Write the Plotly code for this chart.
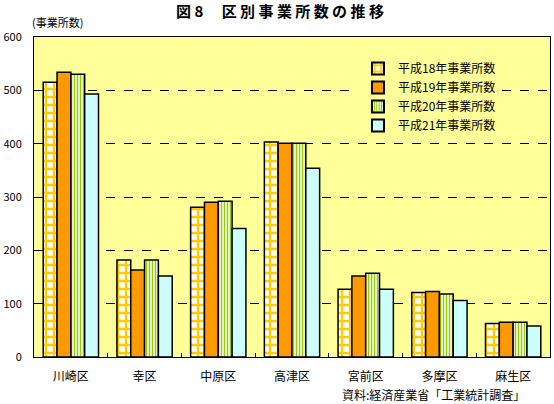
import plotly.graph_objects as go

categories = ["川崎区", "幸区", "中原区", "高津区", "宮前区", "多摩区", "麻生区"]
series_names = ["平成18年事業所数", "平成19年事業所数", "平成20年事業所数", "平成21年事業所数"]
h18 = [515, 182, 281, 403, 127, 121, 63]
h19 = [534, 163, 290, 401, 152, 123, 65]
h20 = [530, 182, 292, 401, 157, 118, 65]
h21 = [493, 152, 241, 354, 127, 106, 58]
y_ticks = [0, 100, 200, 300, 400, 500, 600]

JP = "Noto Sans CJK JP"
fig = go.Figure()

styles = [
    dict(color="#FFFFFF", pattern=dict(shape="+", fgcolor="#FFCC00", bgcolor="#FFFFFF", size=8, solidity=0.5, fillmode="replace")),
    dict(color="#FF9900"),
    dict(color="#FFFFFF", pattern=dict(shape="|", fgcolor="#99CC00", bgcolor="#FFFFFF", size=3, solidity=0.5, fillmode="replace")),
    dict(color="#CCFFFF"),
]
for name, vals, st in zip(series_names, [h18, h19, h20, h21], styles):
    fig.add_trace(go.Bar(
        x=categories, y=vals, name=name,
        marker=dict(line=dict(color="black", width=1.5), **st),
    ))

L, R, T, B = 27, 3, 37, 47
W, H = 554, 404
pw, ph = W - L - R, H - T - B

def px2paper(x, y):
    return (x - L) / pw, (H - B - y) / ph

ann_specs = [
    ("<b>図 8　 区 別 事 業 所 数 の 推 移</b>", 277, 11, "center", 15),
    ("(事業所数)", 23, 22, "left", 11),
    ("資料:経済産業省「工業統計調査」", 528, 394, "right", 12),
]
annotations = []
for text, x, y, xa, fs in ann_specs:
    ax, ay = px2paper(x, y)
    annotations.append(dict(text=text, x=ax, y=ay, xref="paper", yref="paper",
                            xanchor=xa, yanchor="middle", showarrow=False,
                            font=dict(size=fs, family=JP, color="black")))

lx, ly = px2paper(356, 54)
fig.update_layout(
    width=W, height=H,
    margin=dict(l=L, r=R, t=T, b=B),
    paper_bgcolor="white", plot_bgcolor="#FFFF99",
    barmode="group", bargap=0.25, bargroupgap=0,
    font=dict(family=JP, size=11, color="black"),
    showlegend=True,
    legend=dict(x=lx, y=ly, xanchor="left", yanchor="top",
                bgcolor="#FFFF99", font=dict(size=12, family=JP),
                tracegroupgap=0, itemsizing="constant"),
    xaxis=dict(showline=True, linecolor="black", linewidth=1, mirror=True,
               ticks="inside", tickson="boundaries", ticklen=4, tickcolor="black",
               ticklabelstandoff=9,
               tickfont=dict(size=12, family=JP)),
    yaxis=dict(range=[0, 600], tickvals=y_ticks, showgrid=True, gridcolor="black",
               griddash="dash", gridwidth=1, showline=True, linecolor="black",
               linewidth=1, mirror=True, zeroline=False, ticks="",
               ticklabelstandoff=9,
               tickfont=dict(size=11, family=JP)),
    annotations=annotations,
)

fig.write_html("out.html", config={"displayModeBar": False},
               post_script="document.body.style.margin='0';document.body.style.overflow='hidden';")
